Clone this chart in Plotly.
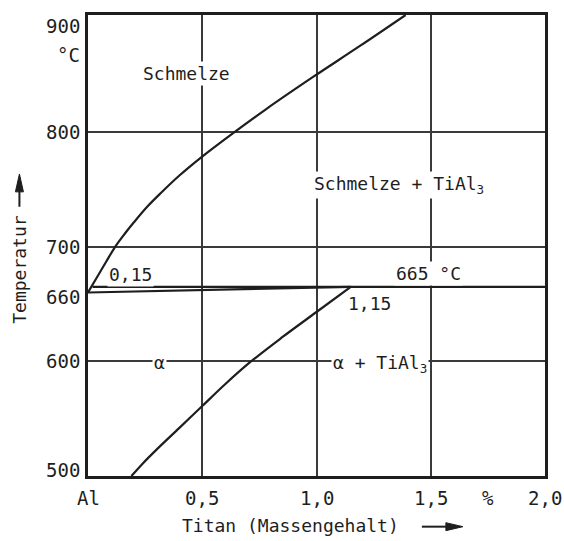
import plotly.graph_objects as go

# ---- data ----
liq_x = [0.0, 0.04, 0.08, 0.116, 0.16, 0.2, 0.26, 0.32, 0.4, 0.49, 0.635, 0.78, 0.985, 1.19, 1.39]
liq_t = [660, 673.5, 687, 699, 711, 721, 735, 747, 762, 777, 799, 820, 848, 875, 902]
peri_x = [0.02, 2.0]
peri_t = [665, 665]
sol_x = [0.0, 1.15]
sol_t = [660, 665]
solv_x = [0.19, 0.24, 0.3, 0.4, 0.5, 0.6, 0.708, 0.85, 1.0, 1.15]
solv_t = [500, 511, 523, 542, 561, 580, 599, 621, 643, 665]

x_ticks = [0.0, 0.5, 1.0, 1.5, 1.75, 2.0]
x_tick_text = ["Al", "0,5", "1,0", "1,5", "%", "2,0"]
y_ticks = [500, 600, 660, 700, 800, 900]
y_tick_text = ["500", "600", "660", "700", "800", "900"]
grid_x = [0.5, 1.0, 1.5]
grid_y = [600, 700, 800]

FONT = "DejaVu Sans Mono"
INK = "#1e1e1e"

fig = go.Figure()
for xs, ts, shp in [(liq_x, liq_t, "spline"), (peri_x, peri_t, "linear"),
                    (sol_x, sol_t, "linear"), (solv_x, solv_t, "spline")]:
    fig.add_trace(go.Scatter(x=xs, y=ts, mode="lines",
                             line=dict(color=INK, width=2.2, shape=shp),
                             showlegend=False, hoverinfo="skip"))

def pxx(p):
    return (p - 88.5) / 456.5

def pxy(p):
    return (476 - p) / 464

ann = []
yshift = {900: -9, 660: -4, 500: 6}
for v, t in zip(y_ticks, y_tick_text):
    ann.append(dict(x=pxx(83), xref="paper", y=v, yref="y", text=t,
                    xanchor="right", yanchor="middle", showarrow=False,
                    yshift=yshift.get(v, 0),
                    font=dict(family=FONT, size=19, color=INK)))
ann.append(dict(x=pxx(83), xref="paper", y=pxy(52), yref="paper", text="°C",
                xanchor="right", yanchor="middle", showarrow=False,
                font=dict(family=FONT, size=19, color=INK)))
for v, t in zip(x_ticks, x_tick_text):
    ann.append(dict(x=v, xref="x", y=pxy(498), yref="paper", text=t,
                    xanchor="center", yanchor="middle", showarrow=False,
                    font=dict(family=FONT, size=19, color=INK)))
ann.append(dict(x=pxx(180), xref="paper", y=pxy(526), yref="paper",
                text="Titan (Massengehalt)", xanchor="left", yanchor="middle",
                showarrow=False, font=dict(family=FONT, size=18, color=INK)))
ann.append(dict(x=pxx(20), xref="paper", y=pxy(268), yref="paper",
                text="Temperatur", textangle=-90, xanchor="center",
                yanchor="middle", showarrow=False,
                font=dict(family=FONT, size=18, color=INK)))

labels = [
    (0.43, 851, "Schmelze"),
    (1.36, 754, "Schmelze + TiAl<sub>3</sub>"),
    (0.186, 676, "0,15"),
    (1.49, 677, "665 °C"),
    (1.234, 650, "1,15"),
    (0.314, 599, "α"),
    (1.28, 598, "α + TiAl<sub>3</sub>"),
]
for x, y, t in labels:
    ann.append(dict(x=x, y=y, xref="x", yref="y", text=t, showarrow=False,
                    xanchor="center", yanchor="middle", bgcolor="white",
                    font=dict(family=FONT, size=18, color=INK)))

shapes = [
    dict(type="line", xref="paper", yref="paper", x0=pxx(422), x1=pxx(450),
         y0=pxy(527), y1=pxy(527), line=dict(color=INK, width=2)),
    dict(type="path", xref="paper", yref="paper", fillcolor=INK,
         line=dict(color=INK, width=1),
         path=f"M {pxx(446)} {pxy(523)} L {pxx(463)} {pxy(527)} L {pxx(446)} {pxy(531)} Z"),
    dict(type="line", xref="paper", yref="paper", x0=pxx(20), x1=pxx(20),
         y0=pxy(205), y1=pxy(185), line=dict(color=INK, width=2)),
    dict(type="path", xref="paper", yref="paper", fillcolor=INK,
         line=dict(color=INK, width=1),
         path=f"M {pxx(16)} {pxy(190)} L {pxx(20)} {pxy(172)} L {pxx(24)} {pxy(190)} Z"),
]

fig.update_layout(
    width=564, height=541,
    margin=dict(l=88, r=19, t=12, b=65),
    paper_bgcolor="white", plot_bgcolor="white",
    annotations=ann, shapes=shapes,
    xaxis=dict(range=[0, 2.0], tickvals=grid_x, showticklabels=False,
               showgrid=True, gridcolor="#3a3a3a", gridwidth=1.5,
               showline=True, linecolor=INK, linewidth=2.5, mirror=True,
               zeroline=False, ticks=""),
    yaxis=dict(range=[500, 902], tickvals=grid_y, showticklabels=False,
               showgrid=True, gridcolor="#3a3a3a", gridwidth=1.5,
               showline=True, linecolor=INK, linewidth=2.5, mirror=True,
               zeroline=False, ticks=""),
)

fig.write_html("out.html", config={"displayModeBar": False},
               post_script="document.body.style.margin='0';document.body.style.overflow='hidden';")
